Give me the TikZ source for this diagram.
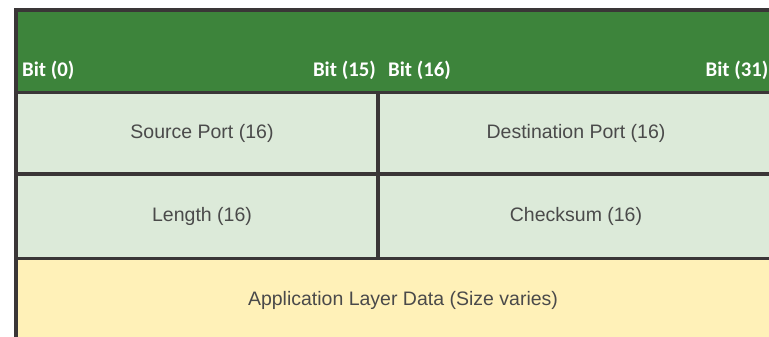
\documentclass[tikz,border=0pt]{standalone}
\usepackage{fontspec}
\setmainfont{Liberation Sans}
\newfontfamily\bitfont{Carlito}
\definecolor{hdrgreen}{HTML}{3D843B}
\definecolor{cellgreen}{HTML}{DCEAD9}
\definecolor{datayellow}{HTML}{FFF1B8}
\definecolor{rulegray}{HTML}{3A3637}
\definecolor{textgray}{HTML}{4A4A4A}
\tikzset{
  cell/.style={rectangle, inner sep=0pt, outer sep=0pt, anchor=north west,
    font=\fontsize{19.5}{22}\selectfont, text=textgray},
  bitlabel/.style={inner sep=0pt, font=\bitfont\bfseries\fontsize{20.8}{24}\selectfont, text=white},
  rule/.style={draw=rulegray, line width=3.2pt}
}
\begin{document}
\begin{tikzpicture}[x=1pt, y=-1pt]
  \useasboundingbox (0,0) rectangle (769,337);
  \clip (0,0) rectangle (769,337);
  % header band and field cells
  \node[cell, fill=hdrgreen, minimum width=774pt, minimum height=82.5pt] (hdr) at (16,10) {};
  \node[cell, fill=cellgreen, minimum width=362pt, minimum height=81.5pt] (src) at (16,92.5) {\hspace*{10pt}Source Port (16)};
  \node[cell, fill=cellgreen, minimum width=396pt, minimum height=81.5pt] (dst) at (378,92.5) {Destination Port (16)};
  \node[cell, fill=cellgreen, minimum width=362pt, minimum height=84.5pt] (len) at (16,174) {\hspace*{10pt}Length (16)};
  \node[cell, fill=cellgreen, minimum width=396pt, minimum height=84.5pt] (chk) at (378,174) {Checksum (16)};
  \node[cell, fill=datayellow, minimum width=774pt, minimum height=83pt] (data) at (16,258.5) {Application Layer Data (Size varies)};
  % bit positions
  \node[bitlabel, anchor=base west] (b0) at (22,77) {Bit (0)};
  \node[bitlabel, anchor=base east] (b15) at (376,77) {Bit (15)};
  \node[bitlabel, anchor=base west] (b16) at (388,77) {Bit (16)};
  \node[bitlabel, anchor=base east] (b31) at (768.5,77) {Bit (31)};
  % rules
  \draw[rule] (hdr.north east) -- (hdr.north west) -- (data.south west);
  \draw[rule] (hdr.south west) -- (hdr.south east);
  \draw[rule] (src.south west) -- (dst.south east);
  \draw[rule] (len.south west) -- (chk.south east);
  \draw[rule] (src.north east) -- (len.south east);
\end{tikzpicture}
\end{document}
